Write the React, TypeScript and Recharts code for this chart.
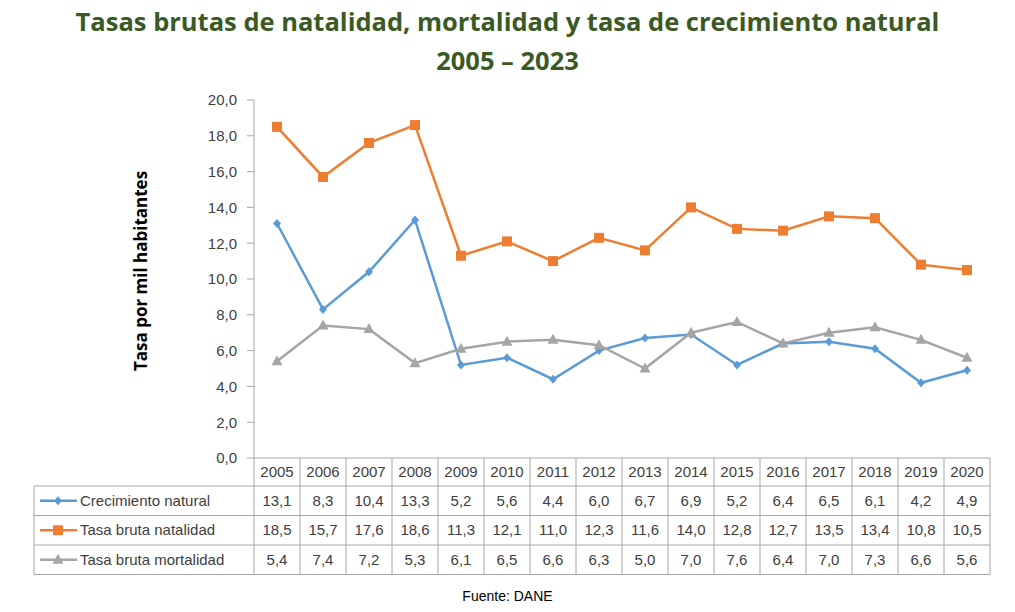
import { LineChart, Line, XAxis, YAxis } from "recharts";

const years = ["2005", "2006", "2007", "2008", "2009", "2010", "2011", "2012", "2013", "2014", "2015", "2016", "2017", "2018", "2019", "2020"];
const crecimiento = [13.1, 8.3, 10.4, 13.3, 5.2, 5.6, 4.4, 6.0, 6.7, 6.9, 5.2, 6.4, 6.5, 6.1, 4.2, 4.9];
const natalidad = [18.5, 15.7, 17.6, 18.6, 11.3, 12.1, 11.0, 12.3, 11.6, 14.0, 12.8, 12.7, 13.5, 13.4, 10.8, 10.5];
const mortalidad = [5.4, 7.4, 7.2, 5.3, 6.1, 6.5, 6.6, 6.3, 5.0, 7.0, 7.6, 6.4, 7.0, 7.3, 6.6, 5.6];
const yTicks = [0, 2, 4, 6, 8, 10, 12, 14, 16, 18, 20];

const BLUE = "#5B9BD5";
const ORANGE = "#ED7D31";
const GRAY = "#A5A5A5";
const GRID = "#A6A6A6";
const TEXT = "#404040";

const series = [
  { key: "crecimiento", name: "Crecimiento natural", color: BLUE, values: crecimiento, shape: "diamond" },
  { key: "natalidad", name: "Tasa bruta natalidad", color: ORANGE, values: natalidad, shape: "square" },
  { key: "mortalidad", name: "Tasa bruta mortalidad", color: GRAY, values: mortalidad, shape: "triangle" },
];

const data = years.map((year, i) => ({
  year,
  crecimiento: crecimiento[i],
  natalidad: natalidad[i],
  mortalidad: mortalidad[i],
}));

const fmt = (v: number) => v.toFixed(1).replace(".", ",");

// table geometry
const COL_W = 46;
const TABLE_TOP = 458;
const HEADER_H = 28;
const ROW_H = 29.5;
const LABEL_LEFT = 34;
const FONT = "'Liberation Sans', Arial, sans-serif";

function Marker({ cx, cy, shape, color }: { cx: number; cy: number; shape: string; color: string }) {
  if (shape === "square") return <rect x={cx - 5} y={cy - 5} width={10} height={10} fill={color} />;
  if (shape === "triangle")
    return <polygon points={`${cx},${cy - 6} ${cx + 5.5},${cy + 4} ${cx - 5.5},${cy + 4}`} fill={color} />;
  return <polygon points={`${cx},${cy - 4.5} ${cx + 4},${cy} ${cx},${cy + 4.5} ${cx - 4},${cy}`} fill={color} />;
}

function TableTick(props: any) {
  const { x, payload } = props;
  const i = payload.index;
  const left = x - COL_W / 2;
  const right = x + COL_W / 2;
  const bottom = TABLE_TOP + HEADER_H + ROW_H * 3;
  return (
    <g>
      <line x1={right} y1={TABLE_TOP} x2={right} y2={bottom} stroke={GRID} />
      {i === 0 && <line x1={left} y1={TABLE_TOP} x2={left} y2={bottom} stroke={GRID} />}
      <line x1={left} y1={TABLE_TOP + HEADER_H} x2={right} y2={TABLE_TOP + HEADER_H} stroke={GRID} />
      {[1, 2, 3].map((r) => (
        <line key={r} x1={left} y1={TABLE_TOP + HEADER_H + ROW_H * r} x2={right} y2={TABLE_TOP + HEADER_H + ROW_H * r} stroke={GRID} />
      ))}
      <text x={x} y={TABLE_TOP + HEADER_H / 2 + 5} textAnchor="middle" fontSize={15} fill={TEXT} fontFamily={FONT}>
        {payload.value}
      </text>
      {series.map((s, r) => (
        <text key={s.key} x={x} y={TABLE_TOP + HEADER_H + ROW_H * r + ROW_H / 2 + 5} textAnchor="middle" fontSize={15} fill={TEXT} fontFamily={FONT}>
          {fmt(s.values[i])}
        </text>
      ))}
      {i === 0 && (
        <g>
          <line x1={LABEL_LEFT} y1={TABLE_TOP + HEADER_H} x2={left} y2={TABLE_TOP + HEADER_H} stroke={GRID} />
          {[1, 2, 3].map((r) => (
            <line key={r} x1={LABEL_LEFT} y1={TABLE_TOP + HEADER_H + ROW_H * r} x2={left} y2={TABLE_TOP + HEADER_H + ROW_H * r} stroke={GRID} />
          ))}
          <line x1={LABEL_LEFT} y1={TABLE_TOP + HEADER_H} x2={LABEL_LEFT} y2={bottom} stroke={GRID} />
          {series.map((s, r) => {
            const cy = TABLE_TOP + HEADER_H + ROW_H * r + ROW_H / 2;
            return (
              <g key={s.key}>
                <line x1={40} y1={cy} x2={77} y2={cy} stroke={s.color} strokeWidth={2.5} />
                <Marker cx={58} cy={cy} shape={s.shape} color={s.color} />
                <text x={80} y={cy + 5} fontSize={15} fill={TEXT} fontFamily={FONT}>
                  {s.name}
                </text>
              </g>
            );
          })}
        </g>
      )}
    </g>
  );
}

export default function App() {
  return (
    <div style={{ position: "relative", width: 1015, height: 612, margin: -8, background: "#fff" }}>
      <div
        style={{
          position: "absolute",
          top: 2,
          left: 0,
          width: 1015,
          textAlign: "center",
          color: "#3B5A23",
          fontFamily: "'Open Sans', sans-serif",
          fontWeight: 700,
          fontSize: 25.5,
          lineHeight: "39px",
        }}
      >
        Tasas brutas de natalidad, mortalidad y tasa de crecimiento natural
        <br />
        2005 – 2023
      </div>
      <div
        style={{
          position: "absolute",
          left: 140,
          top: 271,
          transform: "translate(-50%, -50%) rotate(-90deg)",
          whiteSpace: "nowrap",
          fontFamily: "'Open Sans', sans-serif",
          fontWeight: 700,
          fontSize: 17,
          color: "#000",
        }}
      >
        Tasa por mil habitantes
      </div>
      <LineChart width={1015} height={612} data={data} margin={{ top: 100, right: 25, bottom: 34, left: 174 }}>
        <XAxis
          dataKey="year"
          scale="band"
          height={120}
          axisLine={{ stroke: GRID }}
          tickLine={false}
          interval={0}
          tick={<TableTick />}
        />
        <YAxis
          width={80}
          domain={[0, 20]}
          ticks={yTicks}
          tickFormatter={fmt}
          axisLine={{ stroke: GRID }}
          tickLine={{ stroke: GRID }}
          tickSize={7}
          tickMargin={10}
          tick={{ fontSize: 15, fill: TEXT, fontFamily: FONT }}
        />
        {series.map((s) => (
          <Line
            key={s.key}
            dataKey={s.key}
            name={s.name}
            stroke={s.color}
            strokeWidth={2.5}
            isAnimationActive={false}
            dot={(p: any) => <Marker key={p.index} cx={p.cx} cy={p.cy} shape={s.shape} color={s.color} />}
            activeDot={false}
          />
        ))}
      </LineChart>
      <div
        style={{
          position: "absolute",
          top: 588,
          left: 0,
          width: 1015,
          textAlign: "center",
          fontFamily: FONT,
          fontSize: 14,
          color: "#000",
        }}
      >
        Fuente: DANE
      </div>
    </div>
  );
}
